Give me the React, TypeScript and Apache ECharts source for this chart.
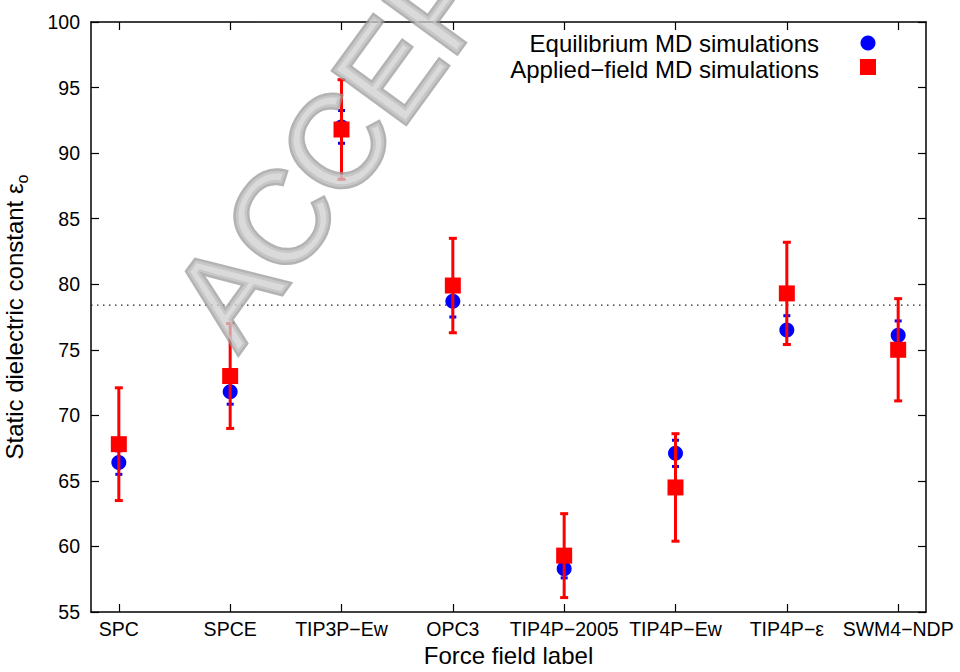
import React, { useEffect, useRef } from "react";
import * as echarts from "echarts";

const categories = ["SPC", "SPCE", "TIP3P\u2212Ew", "OPC3", "TIP4P\u22122005", "TIP4P\u2212Ew", "TIP4P\u2212\u03b5", "SWM4\u2212NDP"];
const categoryPositions = [1, 2, 3, 4, 5, 6, 7, 8];
const equilibriumValues = [66.4, 71.8, 92.0, 78.7, 58.3, 67.1, 76.5, 76.1];
const equilibriumErrors = [0.9, 0.95, 1.25, 1.2, 0.7, 1.0, 1.1, 1.1];
const appliedValues = [67.8, 73.0, 91.8, 79.9, 59.3, 64.5, 79.3, 75.0];
const appliedErrors = [4.3, 4.0, 3.8, 3.6, 3.2, 4.1, 3.9, 3.9];
const referenceValue = 78.4;
const xRange = [0.75, 8.25];
const yRange = [55, 100];
const yInterval = 5;

const seriesNames = ["Equilibrium MD simulations", "Applied\u2212field MD simulations"];

const FONT = '"Liberation Sans", Arial, Helvetica, sans-serif';
const BLUE = "#0000ff";
const RED = "#ff0000";

function errorBarRenderer(color: string, lineWidth: number, capHalf: number, capWidth: number) {
  return (params: any, api: any) => {
    const x = api.value(0);
    const lo = api.value(1);
    const hi = api.value(2);
    const pHi = api.coord([x, hi]);
    const pLo = api.coord([x, lo]);
    const style = { stroke: color, lineWidth };
    const capStyle = { stroke: color, lineWidth: capWidth };
    return {
      type: "group",
      children: [
        { type: "line", shape: { x1: pHi[0], y1: pHi[1], x2: pLo[0], y2: pLo[1] }, style },
        { type: "line", shape: { x1: pHi[0] - capHalf, y1: pHi[1], x2: pHi[0] + capHalf, y2: pHi[1] }, style: capStyle },
        { type: "line", shape: { x1: pLo[0] - capHalf, y1: pLo[1], x2: pLo[0] + capHalf, y2: pLo[1] }, style: capStyle },
      ],
    };
  };
}

export default function App() {
  const ref = useRef<HTMLDivElement>(null);

  useEffect(() => {
    if (!ref.current) return;
    const chart = echarts.init(ref.current, null, { renderer: "svg" });

    const axisLineStyle = { color: "#000", width: 1.5 };
    const tickStyle = { color: "#000", width: 1.2 };

    const option: any = {
      animation: false,
      backgroundColor: "#fff",
      grid: { left: 91, right: 34, top: 22, bottom: 60, containLabel: false, outerBoundsMode: "none" },
      xAxis: [
        {
          type: "value",
          position: "bottom",
          min: xRange[0],
          max: xRange[1],
          axisLine: { show: true, onZero: false, lineStyle: axisLineStyle },
          axisTick: { show: true, inside: true, length: 8, customValues: categoryPositions, lineStyle: tickStyle },
          axisLabel: {
            show: true,
            customValues: categoryPositions,
            formatter: (v: number) => categories[Math.round(v) - 1] ?? "",
            color: "#000",
            fontSize: 19.5,
            fontFamily: FONT,
            margin: 7,
          },
          splitLine: { show: false },
          name: "Force field label",
          nameLocation: "middle",
          nameGap: 31,
          nameTextStyle: { color: "#000", fontSize: 24, fontFamily: FONT },
        },
        {
          type: "value",
          position: "top",
          min: xRange[0],
          max: xRange[1],
          axisLine: { show: true, onZero: false, lineStyle: axisLineStyle },
          axisTick: { show: true, inside: true, length: 8, customValues: categoryPositions, lineStyle: tickStyle },
          axisLabel: { show: false },
          splitLine: { show: false },
        },
      ],
      yAxis: [
        {
          type: "value",
          position: "left",
          min: yRange[0],
          max: yRange[1],
          interval: yInterval,
          axisLine: { show: true, onZero: false, lineStyle: axisLineStyle },
          axisTick: { show: true, inside: true, length: 8, lineStyle: tickStyle },
          axisLabel: { color: "#000", fontSize: 19.5, fontFamily: FONT, margin: 11 },
          splitLine: { show: false },
          name: "{a|Static dielectric constant \u03b5}{b|o}",
          nameLocation: "middle",
          nameGap: 61,
          nameTextStyle: {
            color: "#000",
            fontFamily: FONT,
            rich: {
              a: { fontSize: 24, fontFamily: FONT, color: "#000", lineHeight: 24, verticalAlign: "top" },
              b: { fontSize: 16, fontFamily: FONT, color: "#000", lineHeight: 28, verticalAlign: "bottom" },
            },
          },
        },
        {
          type: "value",
          position: "right",
          min: yRange[0],
          max: yRange[1],
          interval: yInterval,
          axisLine: { show: true, onZero: false, lineStyle: axisLineStyle },
          axisTick: { show: true, inside: true, length: 8, lineStyle: tickStyle },
          axisLabel: { show: false },
          splitLine: { show: false },
        },
      ],
      series: [
        {
          name: "Experimental reference",
          type: "line",
          xAxisIndex: 0,
          yAxisIndex: 0,
          data: [
            [xRange[0], referenceValue],
            [xRange[1], referenceValue],
          ],
          symbol: "none",
          silent: true,
          lineStyle: { color: "#222", width: 1.2, type: [1.5, 4.5] },
          z: 1,
        },
        {
          name: seriesNames[0] + " error",
          type: "custom",
          xAxisIndex: 0,
          yAxisIndex: 0,
          data: equilibriumValues.map((v, i) => [categoryPositions[i], v - equilibriumErrors[i], v + equilibriumErrors[i]]),
          encode: { x: 0, y: [1, 2] },
          renderItem: errorBarRenderer(BLUE, 2, 3.5, 3),
          z: 2,
          silent: true,
        },
        {
          name: seriesNames[0],
          type: "scatter",
          xAxisIndex: 0,
          yAxisIndex: 0,
          data: equilibriumValues.map((v, i) => [categoryPositions[i], v]),
          symbol: "circle",
          symbolSize: 15,
          itemStyle: { color: BLUE, opacity: 1 },
          z: 3,
        },
        {
          name: seriesNames[1] + " error",
          type: "custom",
          xAxisIndex: 0,
          yAxisIndex: 0,
          data: appliedValues.map((v, i) => [categoryPositions[i], v - appliedErrors[i], v + appliedErrors[i]]),
          encode: { x: 0, y: [1, 2] },
          renderItem: errorBarRenderer(RED, 3, 4, 3),
          z: 4,
          silent: true,
        },
        {
          name: seriesNames[1],
          type: "scatter",
          xAxisIndex: 0,
          yAxisIndex: 0,
          data: appliedValues.map((v, i) => [categoryPositions[i], v]),
          symbol: "rect",
          symbolSize: 16,
          itemStyle: { color: RED, opacity: 1 },
          z: 5,
        },
      ],
      graphic: [
        {
          type: "text",
          right: 141,
          top: 31,
          style: { text: seriesNames[0], fill: "#000", fontSize: 24, lineHeight: 22, fontFamily: FONT },
          z: 10,
        },
        {
          type: "text",
          right: 141,
          top: 57,
          style: { text: seriesNames[1], fill: "#000", fontSize: 24, lineHeight: 22, fontFamily: FONT },
          z: 10,
        },
        { type: "circle", shape: { cx: 868, cy: 43, r: 7.5 }, style: { fill: BLUE }, z: 10 },
        { type: "rect", shape: { x: 860, y: 59, width: 16, height: 16 }, style: { fill: RED }, z: 10 },
        {
          type: "text",
          x: 410,
          y: 41,
          rotation: (54 * Math.PI) / 180,
          silent: true,
          z: 100,
          style: {
            text: "ACCEPTED",
            fontSize: 130,
            fontFamily: FONT,
            fill: "#cdcdcd",
            stroke: "#9a9a9a",
            lineWidth: 5,
            align: "center",
            verticalAlign: "middle",
            opacity: 0.75,
          },
        },
      ],
    };

    chart.setOption(option);
    return () => chart.dispose();
  }, []);

  return (
    <div
      ref={ref}
      style={{ position: "fixed", left: 0, top: 0, width: 960, height: 672, background: "#fff" }}
    />
  );
}
